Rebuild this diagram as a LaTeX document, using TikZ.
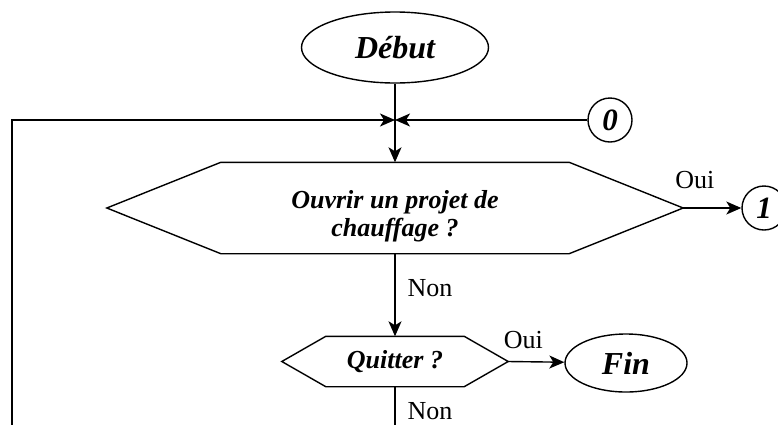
\documentclass[tikz,border=0pt]{standalone}
\usepackage{fontspec}
\setmainfont{Liberation Serif}
\usetikzlibrary{shapes.geometric,arrows.meta}

\begin{document}
\begin{tikzpicture}[x=1pt,y=-1pt,line width=1.4pt,
  term/.style={ellipse,draw,inner sep=0pt,font=\bfseries\itshape\fontsize{32}{32}\selectfont},
  conn/.style={circle,draw,inner sep=0pt,minimum size=44pt,font=\bfseries\itshape\fontsize{31}{31}\selectfont},
  box/.style={inner sep=0pt},
  ask/.style={align=center,font=\bfseries\itshape\fontsize{26}{28}\selectfont},
  lbl/.style={inner sep=2pt,font=\fontsize{26}{26}\selectfont},
  arr/.style={-{Stealth[length=15pt,width=13pt,inset=4pt]}}]
  \useasboundingbox (0,0) rectangle (778,424);
  \clip (0,0) rectangle (778,424);

  \node (debut) at (395,47.5) [term,minimum width=187pt,minimum height=71pt] {Début};
  \coordinate (jn) at (395,120);
  \node (c0) at (610,120) [conn] {0};

  \node (q1) at (395,208) [box,minimum width=347pt,minimum height=90pt] {};
  \node (q1txt) at (395,216) [ask] {Ouvrir un projet de\\chauffage ?};
  \coordinate (q1e) at ([xshift=114pt]q1.east);
  \coordinate (q1w) at ([xshift=-114pt]q1.west);
  \node (c1) at (764,208) [conn] {1};

  \node (q2) at (395,361.5) [box,ask,minimum width=137pt,minimum height=49pt] {Quitter ?};
  \coordinate (q2e) at ([xshift=44pt]q2.east);
  \coordinate (q2w) at ([xshift=-44pt]q2.west);
  \node (fin) at (626,363) [term,minimum width=122pt,minimum height=58pt] {Fin};

  % loop back and exit leave the page at the bottom
  \coordinate (loop) at (12,440);
  \coordinate (bot) at (395,440);

  \draw (q1.north west) -- (q1.north east) -- (q1e) -- (q1.south east) -- (q1.south west) -- (q1w) -- cycle;
  \draw (q2.north west) -- (q2.north east) -- (q2e) -- (q2.south east) -- (q2.south west) -- (q2w) -- cycle;

  \draw (debut) -- (jn);
  \draw[arr] (c0) -- (jn);
  \draw[arr] (loop) |- (jn);
  \draw[arr] (jn) -- (q1);
  \draw[arr] (q1e) -- (c1) node[lbl,pos=0.2,above=17pt] {Oui};
  \draw[arr] (q1) -- (q2) node[lbl,pos=0.42,right=10pt] {Non};
  \draw[arr] (q2e) -- (fin) node[lbl,pos=0.27,above=10pt] {Oui};
  \draw (q2) -- (bot) node[lbl,pos=0.45,right=10pt] {Non};
\end{tikzpicture}
\end{document}
